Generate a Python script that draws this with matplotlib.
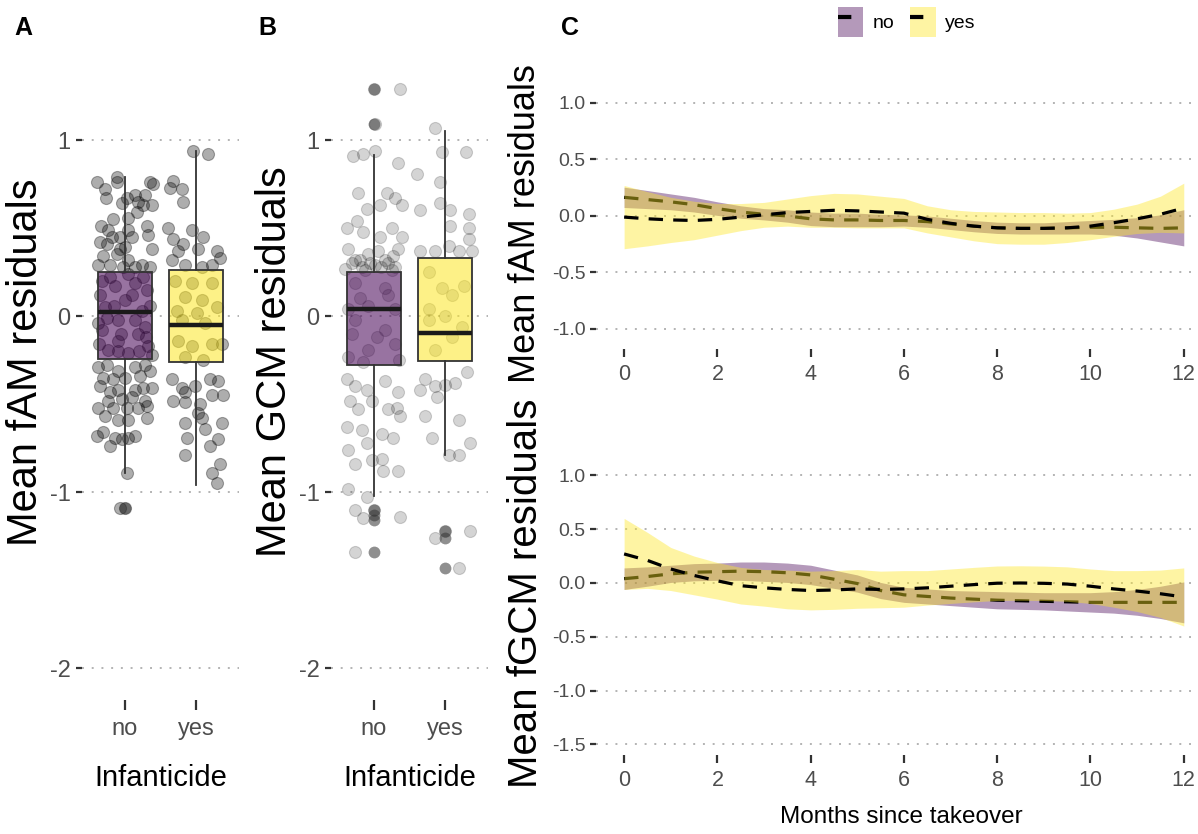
import matplotlib
matplotlib.use("Agg")
import numpy as np
import matplotlib.pyplot as plt
from matplotlib.lines import Line2D
from matplotlib.patches import Patch
from matplotlib.legend_handler import HandlerTuple

plt.rcParams['font.family'] = ['Liberation Sans', 'DejaVu Sans']
plt.rcParams['axes.unicode_minus'] = False

# -----------------------------
# Data
# -----------------------------
groups = ["no", "yes"]

# Panel A: mean fAM residuals, jittered points (offset from category, value)
a_no_jit = [-0.39, -0.28, -0.27, -0.11, -0.11, 0.03, -0.04, 0.14, 0.19, 0.28, 0.36, 0.40, 0.38, 0.26, 0.17,
            0.05, -0.16, -0.33, -0.23, -0.35, -0.25, -0.18, -0.07, 0.05, 0.10, 0.31, 0.33, 0.38, -0.07, 0.00,
            -0.11, -0.30, -0.37, -0.21, 0.05, 0.14, 0.24, 0.36, -0.02, -0.32, -0.14, 0.14, 0.31, -0.28, 0.00,
            0.24, -0.09, -0.37, 0.29, -0.20, 0.05, 0.25, -0.35, 0.10, -0.15, 0.35, -0.25, 0.15, -0.05, 0.30,
            -0.36, -0.10, 0.20, 0.38,
            -0.32, -0.09, 0.19, -0.23, 0.05, 0.33, -0.37, -0.25, -0.09, 0.14, 0.29, 0.36, -0.30, -0.16, 0.00,
            0.21, -0.35, -0.21, -0.09, 0.14, 0.26, 0.38, -0.23, -0.04, 0.10, 0.29, -0.37, -0.16, 0.03, 0.19,
            0.31, -0.28, -0.09, 0.05, 0.31, -0.39, -0.30, -0.14, -0.04, 0.05, 0.14, -0.21, 0.03, -0.07, 0.00]
a_no_val = [0.76, 0.72, 0.67, 0.79, 0.76, 0.67, 0.64, 0.69, 0.65, 0.69, 0.76, 0.75, 0.63, 0.63, 0.59,
            0.56, 0.55, 0.51, 0.49, 0.42, 0.41, 0.45, 0.45, 0.49, 0.45, 0.51, 0.46, 0.38, 0.38, 0.39,
            0.35, 0.34, 0.29, 0.29, 0.32, 0.28, 0.29, 0.28, 0.28, 0.20, 0.17, 0.19, 0.15, 0.05, 0.09,
            0.03, -0.02, -0.04, -0.06, 0.22, 0.24, 0.22, 0.12, 0.12, 0.06, 0.06, -0.01, -0.02, -0.10, -0.12,
            -0.16, -0.20, -0.20, -0.22,
            -0.08, -0.14, -0.10, -0.19, -0.21, -0.17, -0.29, -0.28, -0.31, -0.29, -0.28, -0.31, -0.35, -0.36, -0.35,
            -0.34, -0.40, -0.43, -0.42, -0.42, -0.41, -0.41, -0.48, -0.47, -0.46, -0.48, -0.52, -0.52, -0.52, -0.52,
            -0.51, -0.57, -0.59, -0.59, -0.58, -0.68, -0.66, -0.69, -0.70, -0.69, -0.68, -0.74, -0.89, -1.09, -1.09]
a_yes_jit = [-0.04, 0.16, -0.32, -0.20, -0.36, -0.18, -0.06, -0.39, -0.32, -0.18, 0.10, 0.03, -0.25, -0.34, 0.29,
             0.34, -0.15, 0.08, 0.22, -0.29, -0.06, 0.22, -0.15, 0.08, -0.27, 0.01, 0.29, -0.20, 0.13,
             -0.25, -0.06, 0.22, 0.36, -0.15, 0.10, -0.34, -0.20, -0.15, -0.01, 0.20, 0.31, -0.32, -0.15, 0.06,
             0.22, 0.38, 0.03, 0.08, -0.15, 0.13, 0.36, -0.13, 0.31, 0.20, -0.16, 0.34, 0.22, 0.29]
a_yes_val = [0.94, 0.92, 0.77, 0.72, 0.73, 0.65, 0.49, 0.50, 0.44, 0.41, 0.45, 0.38, 0.37, 0.32, 0.37,
             0.33, 0.29, 0.28, 0.29, 0.20, 0.19, 0.19, 0.11, 0.09, 0.03, 0.02, 0.05, -0.02, -0.04,
             -0.14, -0.17, -0.16, -0.16, -0.23, -0.25, -0.36, -0.41, -0.43, -0.40, -0.36, -0.37, -0.48, -0.49, -0.50,
             -0.45, -0.45, -0.55, -0.58, -0.61, -0.64, -0.61, -0.69, -0.70, -0.74, -0.79, -0.84, -0.89, -0.95]

# Panel B: mean GCM residuals
b_no_jit = [0.00, 0.37, 0.01, -0.29, -0.15, 0.01, 0.34, -0.22, -0.10, 0.08, 0.18, 0.30, 0.39, -0.24, -0.15,
            -0.38, 0.08, 0.25, 0.39, -0.36, -0.08, 0.06, 0.27, -0.27, 0.15, 0.34, -0.17, -0.41, 0.01, -0.27,
            0.15, -0.08, 0.30, -0.36, -0.30, -0.20, -0.05, 0.10, 0.20, 0.30, -0.12, 0.25, -0.20, 0.20, 0.05,
            -0.30, 0.35, -0.15,
            -0.27, 0.15, -0.08, -0.36, 0.30, -0.38, -0.27, -0.10, 0.15, 0.34, -0.34, -0.22, -0.03, 0.20, 0.32,
            0.37, -0.38, -0.17, 0.11, 0.27, -0.10, -0.36, -0.27, -0.03, 0.11, 0.13, 0.34, -0.36, -0.10, -0.27,
            -0.15, 0.00, 0.37, -0.27]
b_no_val = [1.29, 1.29, 1.09, 0.91, 0.92, 0.94, 0.87, 0.70, 0.61, 0.63, 0.70, 0.67, 0.63, 0.54, 0.48,
            0.50, 0.45, 0.50, 0.45, 0.38, 0.35, 0.37, 0.34, 0.32, 0.32, 0.38, 0.28, 0.27, 0.29, 0.19,
            0.16, 0.06, 0.04, 0.04, 0.30, 0.32, 0.30, 0.28, 0.30, 0.28, 0.26, 0.26, 0.10, 0.12, -0.12,
            -0.10, -0.25, -0.26,
            -0.02, -0.08, -0.19, -0.23, -0.16, -0.36, -0.40, -0.42, -0.37, -0.43, -0.48, -0.53, -0.48, -0.53, -0.52,
            -0.57, -0.63, -0.65, -0.67, -0.69, -0.72, -0.76, -0.84, -0.82, -0.81, -0.88, -0.88, -0.98, -1.03, -1.10,
            -1.15, -1.10, -1.14, -1.34]
b_yes_jit = [-0.14, 0.29, -0.04, -0.40, -0.07, -0.35, -0.07, 0.07, 0.33, 0.07, 0.33, 0.33, 0.05, -0.35, 0.19,
             0.38, -0.14, -0.23, -0.05, 0.26, 0.09, -0.23, 0.00,
             -0.23, 0.09, -0.14, 0.23, -0.28, -0.14, 0.00, 0.14, 0.31, -0.35, -0.12, -0.28, 0.19, -0.19, 0.35,
             0.05, 0.19, 0.00, -0.14, 0.35, 0.19]
b_yes_val = [1.07, 0.93, 0.93, 0.81, 0.76, 0.60, 0.64, 0.60, 0.58, 0.51, 0.50, 0.44, 0.40, 0.37, 0.37,
             0.37, 0.37, 0.25, 0.16, 0.17, 0.12, 0.04, 0.00,
             -0.02, -0.12, -0.19, -0.06, -0.36, -0.40, -0.39, -0.38, -0.32, -0.42, -0.46, -0.57, -0.59, -0.69, -0.72,
             -0.79, -0.79, -1.22, -1.26, -1.22, -1.43]

# Box summaries: q1, median, q3, lower whisker, upper whisker, outliers
a_box = [dict(q1=-0.245, med=0.025, q3=0.25, whislo=-0.89, whishi=0.79, fliers=[-1.09]),
         dict(q1=-0.26, med=-0.05, q3=0.26, whislo=-0.96, whishi=0.94, fliers=[])]
b_box = [dict(q1=-0.28, med=0.04, q3=0.25, whislo=-1.02, whishi=0.915,
              fliers=[1.29, 1.09, -1.10, -1.13, -1.16, -1.34]),
         dict(q1=-0.255, med=-0.095, q3=0.33, whislo=-0.79, whishi=1.05, fliers=[-1.22, -1.26, -1.43])]

# Panel C: smooth fits (mean and half-width of band) by months since takeover
months = [0, 0.5, 1, 1.5, 2, 2.5, 3, 3.5, 4, 4.5, 5, 5.5, 6, 6.5, 7, 7.5, 8, 8.5, 9, 9.5, 10, 10.5, 11, 11.5, 12]

fam_no = [0.165, 0.145, 0.125, 0.1, 0.065, 0.035, 0.015, 0.0, -0.025, -0.035, -0.035, -0.04, -0.04,
          -0.05, -0.07, -0.09, -0.105, -0.11, -0.11, -0.105, -0.1, -0.1, -0.105, -0.11, -0.105]
fam_no_se = [0.09, 0.08, 0.07, 0.065, 0.06, 0.055, 0.05, 0.055, 0.06, 0.06, 0.06, 0.055, 0.05,
             0.05, 0.05, 0.05, 0.05, 0.05, 0.05, 0.055, 0.06, 0.07, 0.09, 0.12, 0.16]
fam_yes = [-0.01, -0.025, -0.035, -0.04, -0.03, -0.01, 0.01, 0.03, 0.04, 0.05, 0.045, 0.035, 0.025,
           -0.03, -0.065, -0.09, -0.105, -0.11, -0.11, -0.105, -0.09, -0.06, -0.025, 0.015, 0.07]
fam_yes_se = [0.28, 0.24, 0.2, 0.17, 0.14, 0.12, 0.11, 0.12, 0.14, 0.15, 0.15, 0.14, 0.13,
              0.12, 0.12, 0.13, 0.14, 0.14, 0.14, 0.13, 0.12, 0.12, 0.13, 0.16, 0.22]

gcm_no = [0.04, 0.06, 0.085, 0.1, 0.105, 0.11, 0.105, 0.095, 0.075, 0.035, -0.005, -0.07, -0.11,
          -0.125, -0.14, -0.15, -0.16, -0.165, -0.17, -0.175, -0.18, -0.18, -0.18, -0.18, -0.18]
gcm_no_se = [0.1, 0.09, 0.08, 0.08, 0.08, 0.085, 0.09, 0.09, 0.09, 0.085, 0.08, 0.075, 0.07,
             0.07, 0.07, 0.075, 0.08, 0.08, 0.08, 0.085, 0.09, 0.1, 0.12, 0.15, 0.19]
gcm_yes = [0.27, 0.21, 0.13, 0.07, 0.02, -0.025, -0.045, -0.06, -0.07, -0.065, -0.055, -0.06, -0.055,
           -0.045, -0.03, -0.015, -0.002, 0.0, -0.003, -0.01, -0.03, -0.055, -0.075, -0.1, -0.13]
gcm_yes_se = [0.33, 0.26, 0.2, 0.18, 0.17, 0.17, 0.17, 0.18, 0.18, 0.18, 0.18, 0.17, 0.17,
              0.16, 0.16, 0.16, 0.16, 0.16, 0.16, 0.16, 0.16, 0.17, 0.19, 0.22, 0.27]

# -----------------------------
# Style
# -----------------------------
PURPLE = "#440154"
YELLOW = "#FDE725"
TICK_COL = "#333333"
LAB_COL = "#4d4d4d"
GRID = dict(color="#b3b3b3", linestyle=(0, (1, 4)), linewidth=1.4)
DASH = (0, (4.5, 3.2))


def clean(ax):
    for s in ax.spines.values():
        s.set_visible(False)
    ax.yaxis.grid(True, **GRID)
    ax.xaxis.grid(False)
    ax.set_axisbelow(True)


def box_panel(ax, jits, vals, boxes, alpha_pts, ylabel):
    clean(ax)
    for i, (jit, val) in enumerate(zip(jits, vals)):
        ax.scatter(np.array(jit) + i + 1, val, s=75, facecolor=(0, 0, 0, alpha_pts),
                   edgecolor=(0, 0, 0, alpha_pts), linewidth=0.8, zorder=1)
    bp = ax.bxp(boxes, positions=[1, 2], widths=0.75, patch_artist=True, showcaps=False,
                boxprops=dict(edgecolor=TICK_COL, linewidth=1.3),
                whiskerprops=dict(color=TICK_COL, linewidth=1.3),
                medianprops=dict(color="#1a1a1a", linewidth=3.2),
                flierprops=dict(marker="o", markerfacecolor=(0.2, 0.2, 0.2, 0.55),
                                markeredgecolor="none", markersize=8.5),
                zorder=2)
    for patch, col in zip(bp["boxes"], [PURPLE, YELLOW]):
        patch.set_facecolor(matplotlib.colors.to_rgba(col, 0.55))
    ax.set_xlim(0.4, 2.6)
    ax.set_ylim(-2.18, 1.45)
    ax.set_yticks([-2, -1, 0, 1])
    ax.set_yticklabels(["-2", "-1", "0", "1"])
    ax.set_xticks([1, 2])
    ax.set_xticklabels(groups)
    ax.tick_params(axis="y", length=4.3, width=1.6, color=TICK_COL, pad=4,
                   labelsize=17, labelcolor=LAB_COL)
    ax.tick_params(axis="x", length=7, width=1.6, color=TICK_COL, pad=6,
                   labelsize=17, labelcolor=LAB_COL)
    ax.set_ylabel(ylabel, fontsize=30, va="center")
    ax.yaxis.set_label_coords(-0.357, 0.529)
    ax.set_xlabel("Infanticide", fontsize=21, va="center")
    ax.xaxis.set_label_coords(0.5, -0.1226)


def smooth_panel(ax, no_m, no_se, yes_m, yes_se):
    clean(ax)
    no_m, no_se = np.array(no_m), np.array(no_se)
    yes_m, yes_se = np.array(yes_m), np.array(yes_se)
    ax.fill_between(months, no_m - no_se, no_m + no_se, color=PURPLE, alpha=0.4, lw=0, zorder=1)
    ax.plot(months, no_m, color="black", lw=2.3, linestyle=DASH, zorder=2)
    ax.fill_between(months, yes_m - yes_se, yes_m + yes_se, color=YELLOW, alpha=0.42, lw=0, zorder=3)
    ax.plot(months, yes_m, color="black", lw=2.3, linestyle=DASH, zorder=4)
    ax.set_xlim(-0.6, 12.3)
    ax.set_xticks([0, 2, 4, 6, 8, 10, 12])
    ax.tick_params(axis="y", length=4.5, width=1.6, color=TICK_COL, pad=3,
                   labelsize=14, labelcolor=LAB_COL)
    ax.tick_params(axis="x", length=5.5, width=1.6, color=TICK_COL, pad=5,
                   labelsize=15.5, labelcolor=LAB_COL)


fig = plt.figure(figsize=(11.98, 8.34), dpi=100)
axA = fig.add_axes([0.0684, 0.161, 0.1311, 0.766])
axB = fig.add_axes([0.2763, 0.161, 0.1311, 0.766])
axC1 = fig.add_axes([0.4976, 0.5812, 0.5022, 0.3197])
axC2 = fig.add_axes([0.4976, 0.0945, 0.5022, 0.351])

box_panel(axA, [a_no_jit, a_yes_jit], [a_no_val, a_yes_val], a_box, 0.32, "Mean fAM residuals")
box_panel(axB, [b_no_jit, b_yes_jit], [b_no_val, b_yes_val], b_box, 0.17, "Mean GCM residuals")

smooth_panel(axC1, fam_no, fam_no_se, fam_yes, fam_yes_se)
axC1.set_ylim(-1.18, 1.18)
axC1.set_yticks([-1, -0.5, 0, 0.5, 1])
axC1.set_yticklabels(["-1.0", "-0.5", "0.0", "0.5", "1.0"])
axC1.set_ylabel("Mean fAM residuals", fontsize=26, va="center")
axC1.yaxis.set_label_coords(-0.117, 0.472)

smooth_panel(axC2, gcm_no, gcm_no_se, gcm_yes, gcm_yes_se)
axC2.set_ylim(-1.6, 1.12)
axC2.set_yticks([-1.5, -1, -0.5, 0, 0.5, 1])
axC2.set_yticklabels(["-1.5", "-1.0", "-0.5", "0.0", "0.5", "1.0"])
axC2.set_ylabel("Mean fGCM residuals", fontsize=29, va="center")
axC2.yaxis.set_label_coords(-0.117, 0.5525)
axC2.set_xlabel("Months since takeover", fontsize=17.5, va="center")
axC2.xaxis.set_label_coords(0.507, -0.21)

# panel letters
for x, letter in [(23, "A"), (267, "B"), (570, "C")]:
    fig.text(x / 1198, 1 - 28 / 834, letter, fontsize=18, weight="bold", ha="center", va="center")

# legend
handles = [(Patch(facecolor=PURPLE, alpha=0.4, edgecolor="none"),
            Line2D([], [], color="black", lw=3, linestyle=(0, (3.2, 10)))),
           (Patch(facecolor=YELLOW, alpha=0.42, edgecolor="none"),
            Line2D([], [], color="black", lw=3, linestyle=(0, (3.2, 10))))]
fig.legend(handles, groups, handler_map={tuple: HandlerTuple(ndivide=1)}, loc="center",
           bbox_to_anchor=(0.757, 0.974), ncol=2, frameon=False, fontsize=14,
           handlelength=1.3, handleheight=2.0, handletextpad=0.5, columnspacing=0.8)

fig.savefig("out.png", dpi=100)
